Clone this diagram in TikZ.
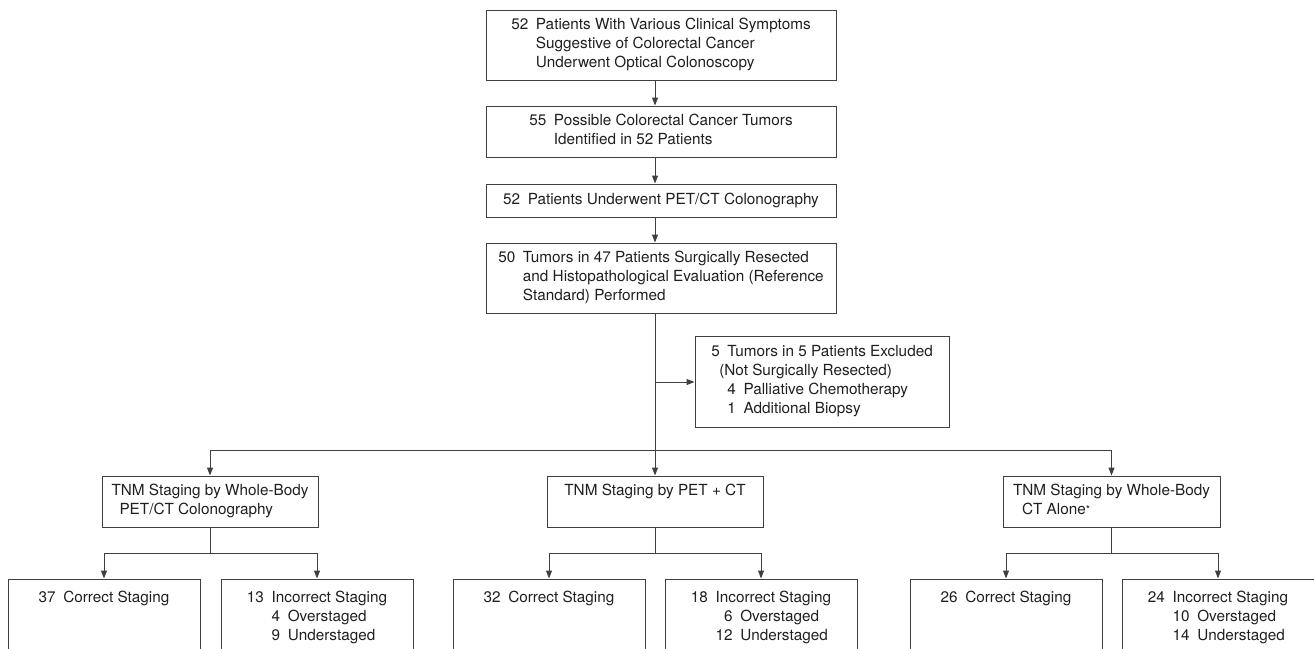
\documentclass[tikz,border=0pt]{standalone}
\usepackage{fontspec}
\setmainfont{TeX Gyre Heros}
\usetikzlibrary{arrows.meta}
\definecolor{lc}{gray}{0.25}
\definecolor{tc}{gray}{0.12}
\newcommand{\fs}{\fontsize{15.3}{19}\selectfont}
\newcommand{\gp}{\hspace{.5em}}
\begin{document}
\begin{tikzpicture}[x=1pt,y=-1pt,
  box/.style={draw=lc,line width=1pt,inner sep=0pt,text=tc,font=\fs},
  txt/.style={inner sep=0pt,text=tc,font=\fs,anchor=north},
  link/.style={draw=lc,line width=1pt},
  arr/.style={link,-{Triangle[length=8pt,width=6pt]}}]
\useasboundingbox (0,0) rectangle (1314,648);
\clip (0,0) rectangle (1314,648);
\coordinate (sp) at (655,0);
% main column
\node[box,minimum width=350pt,minimum height=70pt] (b1) at (661,45)
 {\begin{tabular}{@{}l@{\gp}l@{}}52&Patients With Various Clinical Symptoms\\&Suggestive of Colorectal Cancer\\&Underwent Optical Colonoscopy\end{tabular}};
\node[box,minimum width=350pt,minimum height=51pt] (b2) at (661,131.5)
 {\begin{tabular}{@{}l@{\gp}l@{}}55&Possible Colorectal Cancer Tumors\\&Identified in 52 Patients\end{tabular}};
\node[box,minimum width=350pt,minimum height=33pt] (b3) at (661,200.5)
 {\begin{tabular}{@{}l@{\gp}l@{}}52&Patients Underwent PET/CT Colonography\end{tabular}};
\node[box,minimum width=350pt,minimum height=70pt] (b4) at (661,278)
 {\begin{tabular}{@{}l@{\gp}l@{}}50&Tumors in 47 Patients Surgically Resected\\&and Histopathological Evaluation (Reference\\&Standard) Performed\end{tabular}};
\node[box,minimum width=254pt,minimum height=91pt] (ex) at (822,381.5)
 {\begin{tabular}{@{}l@{\gp}l@{}}5&Tumors in 5 Patients Excluded\\\multicolumn{2}{@{}l@{}}{\hspace{8pt}(Not Surgically Resected)}\\&4\gp Palliative Chemotherapy\\&1\gp Additional Biopsy\end{tabular}};
% level 2
\node[box,minimum width=216pt,minimum height=51pt] (l) at (210,501.5)
 {\begin{tabular}{@{}l@{}}TNM Staging by Whole-Body\\\hspace{8pt}PET/CT Colonography\end{tabular}};
\node[box,minimum width=216pt,minimum height=51pt] (m) at (655,501.5)
 {\begin{tabular}{@{}l@{}}TNM Staging by PET + CT\\~\end{tabular}};
\node[box,minimum width=217pt,minimum height=51pt] (r) at (1111.5,501.5)
 {\begin{tabular}{@{}l@{}}TNM Staging by Whole-Body\\\hspace{9pt}CT Alone\raisebox{1pt}{\fontsize{11}{11}\selectfont *}\end{tabular}};
% level 3 boxes
\foreach \n/\x in {la/104,lb/317,ma/549,mb/761,ra/1006,rb/1218}
  \node[box,minimum width=192pt,minimum height=100pt] (\n) at (\x,629) {};
\node[txt] (tla) at ([yshift=-10pt]la.north) {\begin{tabular}{@{}l@{\gp}l@{}}37&Correct Staging\end{tabular}};
\node[txt] (tma) at ([yshift=-10pt]ma.north) {\begin{tabular}{@{}l@{\gp}l@{}}32&Correct Staging\end{tabular}};
\node[txt] (tra) at ([yshift=-10pt]ra.north) {\begin{tabular}{@{}l@{\gp}l@{}}26&Correct Staging\end{tabular}};
\node[txt] (tlb) at ([yshift=-10pt]lb.north) {\begin{tabular}{@{}l@{\gp}r@{\gp}l@{}}13&\multicolumn{2}{@{}l@{}}{Incorrect Staging}\\&4&Overstaged\\&9&Understaged\end{tabular}};
\node[txt] (tmb) at ([yshift=-10pt]mb.north) {\begin{tabular}{@{}l@{\gp}r@{\gp}l@{}}18&\multicolumn{2}{@{}l@{}}{Incorrect Staging}\\&6&Overstaged\\&12&Understaged\end{tabular}};
\node[txt] (trb) at ([yshift=-10pt]rb.north) {\begin{tabular}{@{}l@{\gp}r@{\gp}l@{}}24&\multicolumn{2}{@{}l@{}}{Incorrect Staging}\\&10&Overstaged\\&14&Understaged\end{tabular}};
% connectors main column
\draw[arr] (b1.south -| sp) -- (b2.north -| sp);
\draw[arr] (b2.south -| sp) -- (b3.north -| sp);
\draw[arr] (b3.south -| sp) -- (b4.north -| sp);
\coordinate (jx) at (655,382);
\coordinate (bar) at (655,450);
\draw[arr] (b4.south -| sp) -- (m.north);
\draw[arr] (jx) -- (jx -| ex.west);
\draw[arr] (bar) -| (l.north);
\draw[arr] (bar) -| (r.north);
% branches
\foreach \p/\a/\b in {l/la/lb,m/ma/mb,r/ra/rb}{
  \draw[link] (\p.south) -- ++(0,26) coordinate (\p j);
  \draw[arr] (\p j) -| (\a.north);
  \draw[arr] (\p j) -| (\b.north);
}
\end{tikzpicture}
\end{document}
